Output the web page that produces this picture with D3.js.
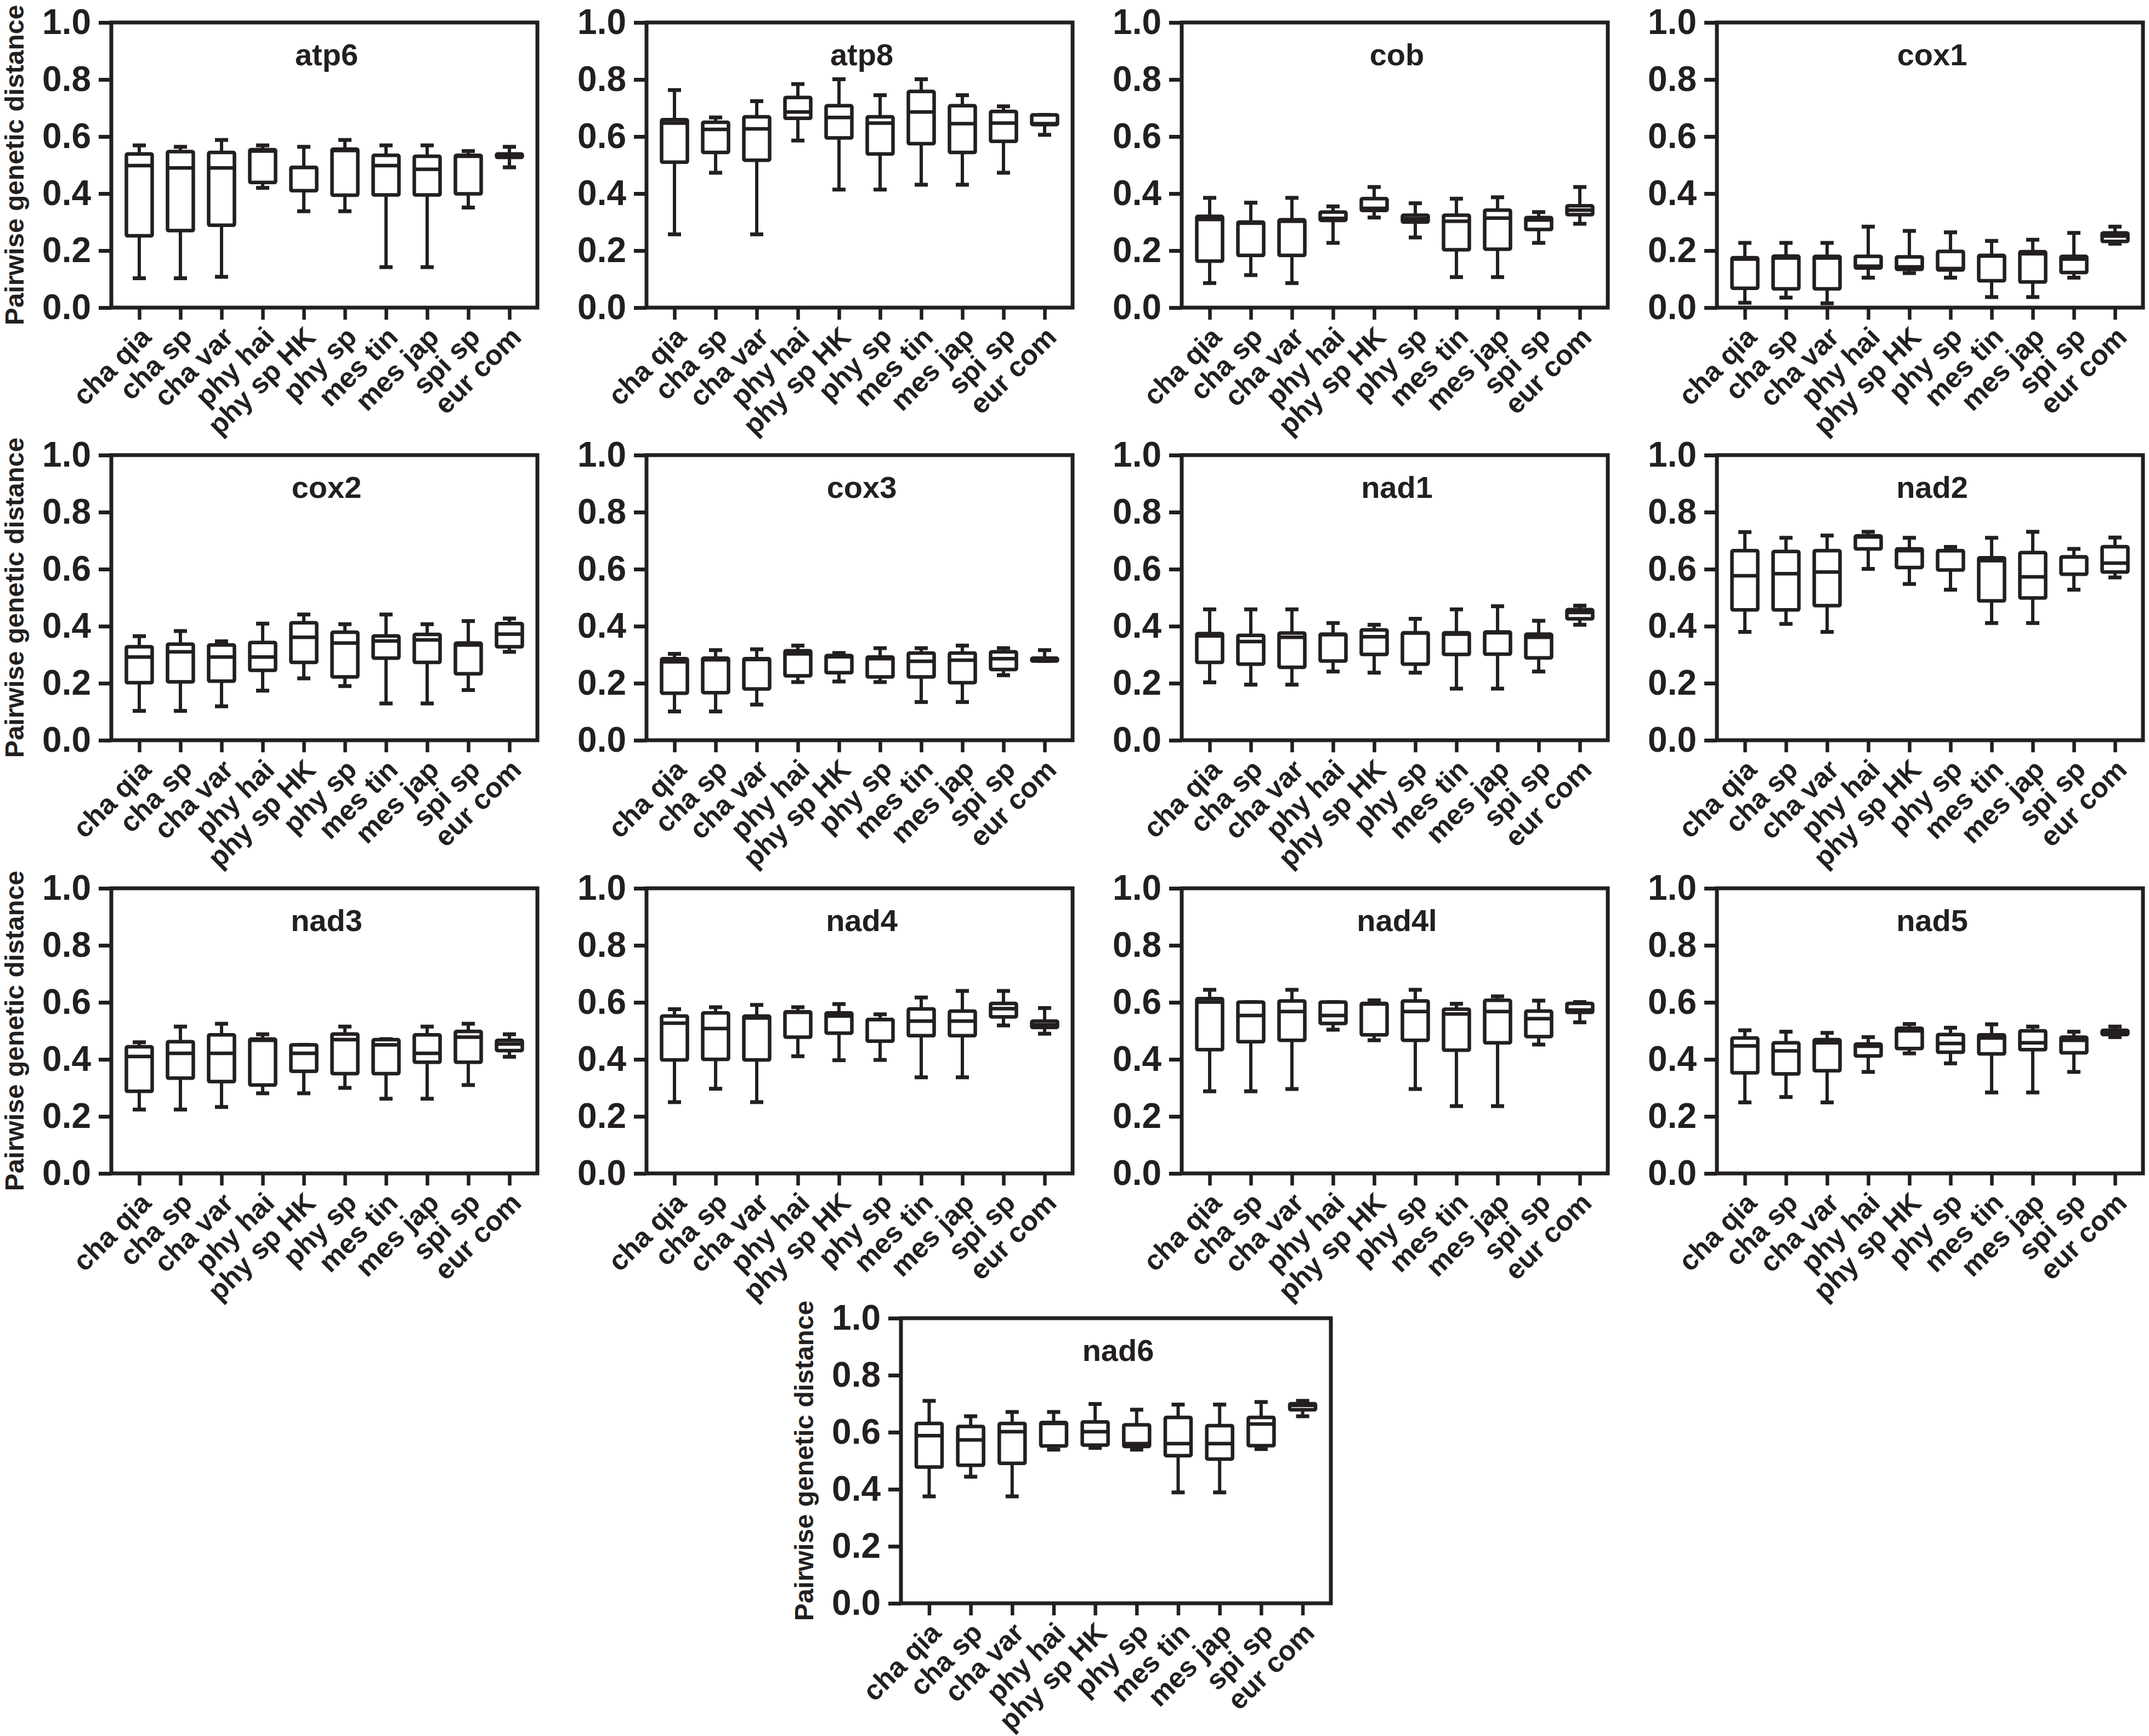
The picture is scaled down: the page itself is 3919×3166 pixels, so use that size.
<!DOCTYPE html>
<html>
<head>
<meta charset="utf-8">
<script src="https://cdn.jsdelivr.net/npm/d3@7"></script>
<style>
  html, body { margin: 0; padding: 0; background: #fff; }
  svg { display: block; }
  text { font-family: "Liberation Sans", Arial, Helvetica, sans-serif; font-weight: bold; fill: #231f20; }
</style>
</head>
<body>
<script>
// ---------- DATA ----------
const species = ["cha qia", "cha sp", "cha var", "phy hai", "phy sp HK", "phy sp", "mes tin", "mes jap", "spi sp", "eur com"];
const genes = ["atp6", "atp8", "cob", "cox1", "cox2", "cox3", "nad1", "nad2", "nad3", "nad4", "nad4l", "nad5", "nad6"];
const yTicks = [0, 0.2, 0.4, 0.6, 0.8, 1.0];
const yTitle = "Pairwise genetic distance";

// each row: [min, Q1, median, Q3, max], one row per species
const atp6 = [[0.103,0.252,0.498,0.539,0.569],[0.103,0.27,0.49,0.547,0.564],[0.108,0.289,0.49,0.544,0.588],[0.42,0.439,0.549,0.554,0.569],[0.338,0.41,0.492,0.492,0.564],[0.338,0.394,0.551,0.556,0.588],[0.142,0.395,0.498,0.534,0.569],[0.142,0.395,0.485,0.531,0.569],[0.351,0.399,0.531,0.534,0.549],[0.492,0.527,0.529,0.539,0.564]];
const atp8 = [[0.257,0.51,0.647,0.659,0.763],[0.473,0.544,0.625,0.65,0.667],[0.257,0.517,0.627,0.669,0.724],[0.586,0.664,0.686,0.737,0.784],[0.414,0.595,0.667,0.708,0.801],[0.414,0.539,0.647,0.669,0.745],[0.431,0.575,0.686,0.758,0.801],[0.431,0.544,0.645,0.708,0.745],[0.473,0.583,0.647,0.688,0.706],[0.606,0.642,0.645,0.676,0.676]];
const cob = [[0.086,0.163,0.309,0.32,0.385],[0.114,0.183,0.296,0.30,0.368],[0.086,0.183,0.303,0.308,0.385],[0.227,0.306,0.313,0.335,0.355],[0.316,0.341,0.348,0.382,0.423],[0.246,0.30,0.311,0.324,0.366],[0.107,0.203,0.303,0.324,0.382],[0.107,0.205,0.314,0.342,0.387],[0.227,0.274,0.307,0.316,0.335],[0.294,0.326,0.342,0.357,0.423]];
const cox1 = [[0.017,0.068,0.17,0.175,0.227],[0.035,0.066,0.174,0.181,0.227],[0.015,0.066,0.174,0.18,0.227],[0.105,0.139,0.145,0.18,0.284],[0.121,0.134,0.143,0.178,0.269],[0.105,0.132,0.137,0.197,0.264],[0.037,0.094,0.181,0.183,0.234],[0.037,0.09,0.189,0.196,0.238],[0.105,0.123,0.17,0.18,0.262],[0.224,0.232,0.251,0.262,0.284]];
const cox2 = [[0.103,0.202,0.292,0.328,0.365],[0.103,0.205,0.31,0.337,0.383],[0.119,0.207,0.292,0.334,0.347],[0.174,0.245,0.292,0.343,0.409],[0.217,0.273,0.361,0.412,0.441],[0.19,0.222,0.341,0.379,0.407],[0.129,0.288,0.348,0.366,0.441],[0.129,0.273,0.352,0.371,0.407],[0.176,0.233,0.334,0.341,0.418],[0.31,0.328,0.372,0.409,0.427]];
const cox3 = [[0.101,0.165,0.275,0.286,0.303],[0.101,0.167,0.282,0.288,0.316],[0.125,0.18,0.283,0.286,0.319],[0.204,0.226,0.303,0.314,0.332],[0.206,0.237,0.293,0.297,0.306],[0.204,0.222,0.286,0.292,0.323],[0.134,0.222,0.277,0.306,0.323],[0.134,0.202,0.281,0.306,0.332],[0.228,0.248,0.286,0.31,0.323],[0.278,0.278,0.282,0.288,0.316]];
const nad1 = [[0.203,0.273,0.366,0.374,0.459],[0.195,0.267,0.346,0.368,0.459],[0.195,0.256,0.361,0.376,0.459],[0.241,0.278,0.37,0.372,0.411],[0.237,0.301,0.363,0.387,0.405],[0.237,0.267,0.376,0.377,0.426],[0.181,0.301,0.372,0.377,0.459],[0.181,0.302,0.377,0.38,0.47],[0.241,0.289,0.361,0.372,0.419],[0.405,0.426,0.448,0.458,0.472]];
const nad2 = [[0.38,0.457,0.577,0.665,0.73],[0.408,0.457,0.584,0.662,0.71],[0.38,0.472,0.59,0.665,0.718],[0.601,0.671,0.713,0.717,0.731],[0.548,0.606,0.665,0.671,0.71],[0.528,0.597,0.665,0.665,0.678],[0.411,0.489,0.63,0.64,0.71],[0.411,0.499,0.573,0.658,0.731],[0.528,0.582,0.643,0.643,0.671],[0.571,0.59,0.621,0.679,0.711]];
const nad3 = [[0.224,0.288,0.41,0.444,0.46],[0.224,0.334,0.421,0.462,0.515],[0.233,0.322,0.421,0.486,0.525],[0.281,0.31,0.467,0.471,0.488],[0.281,0.358,0.421,0.451,0.451],[0.30,0.35,0.469,0.489,0.515],[0.262,0.35,0.451,0.469,0.471],[0.262,0.39,0.421,0.486,0.515],[0.31,0.39,0.478,0.498,0.525],[0.409,0.431,0.454,0.467,0.488]];
const nad4 = [[0.25,0.398,0.527,0.552,0.576],[0.297,0.40,0.508,0.563,0.583],[0.25,0.398,0.545,0.552,0.591],[0.411,0.478,0.565,0.567,0.583],[0.397,0.492,0.552,0.563,0.594],[0.398,0.464,0.54,0.54,0.558],[0.337,0.483,0.534,0.577,0.617],[0.337,0.483,0.534,0.569,0.64],[0.519,0.549,0.578,0.596,0.64],[0.49,0.512,0.521,0.534,0.58]];
const nad4l = [[0.288,0.434,0.601,0.613,0.644],[0.288,0.462,0.554,0.601,0.601],[0.296,0.467,0.568,0.605,0.644],[0.504,0.526,0.554,0.601,0.601],[0.467,0.486,0.594,0.596,0.607],[0.296,0.467,0.568,0.605,0.644],[0.236,0.432,0.559,0.576,0.595],[0.236,0.458,0.568,0.607,0.621],[0.452,0.48,0.543,0.569,0.606],[0.53,0.565,0.573,0.596,0.601]];
const nad5 = [[0.249,0.353,0.447,0.475,0.502],[0.268,0.349,0.43,0.458,0.497],[0.249,0.36,0.458,0.469,0.493],[0.356,0.412,0.446,0.454,0.478],[0.421,0.438,0.50,0.509,0.524],[0.386,0.425,0.456,0.487,0.511],[0.284,0.419,0.475,0.486,0.523],[0.284,0.434,0.458,0.50,0.515],[0.356,0.423,0.467,0.478,0.497],[0.478,0.487,0.497,0.502,0.515]];
const nad6 = [[0.375,0.478,0.588,0.631,0.71],[0.444,0.484,0.573,0.62,0.656],[0.375,0.491,0.602,0.631,0.671],[0.539,0.552,0.631,0.634,0.671],[0.545,0.555,0.602,0.636,0.699],[0.539,0.55,0.56,0.626,0.679],[0.389,0.518,0.56,0.652,0.697],[0.389,0.506,0.56,0.623,0.697],[0.541,0.553,0.629,0.652,0.706],[0.656,0.679,0.694,0.70,0.71]];

const geneData = [atp6, atp8, cob, cox1, cox2, cox3, nad1, nad2, nad3, nad4, nad4l, nad5, nad6];

// ---------- LAYOUT ----------
const W = 3919, H = 3166;
const plotH = 520;
const colLeft = [203, 1179, 2155, 3131];
const rowTop = [41, 830, 1620];
const ink = "#231f20";
const FONT = '"Liberation Sans", Arial, Helvetica, sans-serif';

function panelPos(i) {
  if (i < 12) return { x: colLeft[i % 4], y: rowTop[Math.floor(i / 4)], w: 777, yTitle: (i % 4) === 0 };
  return { x: 1643, y: 2404, w: 784, yTitle: true };
}

const svg = d3.select("body").append("svg").attr("width", W).attr("height", H);
svg.append("rect").attr("width", W).attr("height", H).attr("fill", "#fff");

const y = d3.scaleLinear().domain([0, 1]).range([plotH, 0]);
const boxW = 47, capW = 24, lw = 6.5;

genes.forEach((gene, i) => {
  const pos = panelPos(i);
  const plotW = pos.w;
  const x = d3.scalePoint().domain(species).range([0, plotW]).padding(0.68);
  const g = svg.append("g").attr("transform", `translate(${pos.x},${pos.y})`);
  const data = geneData[i];

  // y axis
  const ya = g.append("g").call(d3.axisLeft(y).tickValues(yTicks).tickFormat(d3.format(".1f")).tickSize(23).tickPadding(14));
  ya.select(".domain").remove();
  ya.selectAll(".tick line").attr("stroke", ink).attr("stroke-width", 7);
  ya.selectAll(".tick text").attr("font-size", 64).attr("fill", ink)
    .attr("font-family", FONT).attr("font-weight", "bold");

  // x axis
  const xa = g.append("g").attr("transform", `translate(0,${plotH})`)
    .call(d3.axisBottom(x).tickSize(22).tickPadding(0));
  xa.select(".domain").remove();
  xa.selectAll(".tick line").attr("stroke", ink).attr("stroke-width", 6.5);
  xa.selectAll(".tick text")
    .attr("font-size", 51).attr("fill", ink)
    .attr("font-family", FONT).attr("font-weight", "bold")
    .attr("text-anchor", "end").attr("x", 0).attr("y", 0).attr("dy", 0)
    .attr("transform", "translate(24,57) rotate(-45)");

  // frame
  g.append("rect").attr("x", 0).attr("y", 0).attr("width", plotW).attr("height", plotH)
    .attr("fill", "none").attr("stroke", ink).attr("stroke-width", 7);

  // title
  g.append("text").attr("x", plotW / 2 + 4).attr("y", 78).attr("text-anchor", "middle")
    .attr("font-size", 56).text(gene);

  if (pos.yTitle) {
    g.append("text").attr("transform", `translate(-160,${plotH / 2}) rotate(-90)`)
      .attr("text-anchor", "middle").attr("font-size", 48)
      .text(yTitle);
  }

  // boxes
  const bx = g.selectAll("g.box").data(data).join("g").attr("class", "box")
    .attr("transform", (d, j) => `translate(${x(species[j])},0)`);
  bx.append("line").attr("x1", 0).attr("x2", 0)
    .attr("y1", d => y(d[4])).attr("y2", d => y(d[3]))
    .attr("stroke", ink).attr("stroke-width", 6);
  bx.append("line").attr("x1", 0).attr("x2", 0)
    .attr("y1", d => y(d[1])).attr("y2", d => y(d[0]))
    .attr("stroke", ink).attr("stroke-width", 6);
  bx.append("line").attr("x1", -capW / 2).attr("x2", capW / 2)
    .attr("y1", d => y(d[4])).attr("y2", d => y(d[4]))
    .attr("stroke", ink).attr("stroke-width", 7);
  bx.append("line").attr("x1", -capW / 2).attr("x2", capW / 2)
    .attr("y1", d => y(d[0])).attr("y2", d => y(d[0]))
    .attr("stroke", ink).attr("stroke-width", 7);
  bx.append("rect").attr("x", -boxW / 2).attr("width", boxW)
    .attr("y", d => y(d[3])).attr("height", d => Math.max(0.5, y(d[1]) - y(d[3])))
    .attr("fill", "#fff").attr("stroke", ink).attr("stroke-width", lw).attr("rx", 2);
  bx.append("line").attr("x1", -boxW / 2).attr("x2", boxW / 2)
    .attr("y1", d => y(d[2])).attr("y2", d => y(d[2]))
    .attr("stroke", ink).attr("stroke-width", lw);
});
</script>
</body>
</html>
